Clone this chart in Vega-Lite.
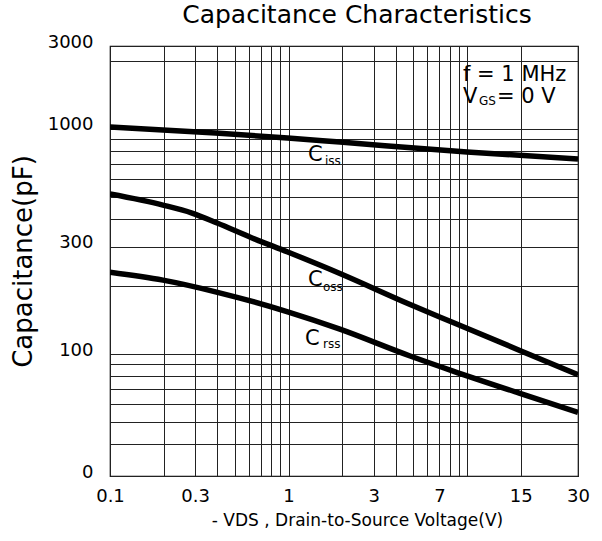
{
  "$schema": "https://vega.github.io/schema/vega-lite/v6.json",
  "width": 468,
  "height": 430,
  "autosize": {"type": "none"},
  "padding": {"left": 110, "top": 46, "right": 24, "bottom": 65},
  "title": {"text": "Capacitance Characteristics", "fontSize": 25, "font": "DejaVu Sans", "fontWeight": "normal", "anchor": "middle", "offset": 5, "dx": 13, "color": "black"},
  "config": {"view": {"stroke": "black", "strokeWidth": 1.2}, "font": "DejaVu Sans"},
  "datasets": {
    "curves": [
      {"series": "Ciss", "vds": 0.1, "cap": 1020},
      {"series": "Ciss", "vds": 0.39, "cap": 960},
      {"series": "Ciss", "vds": 0.99, "cap": 912},
      {"series": "Ciss", "vds": 1.94, "cap": 875},
      {"series": "Ciss", "vds": 10, "cap": 790},
      {"series": "Ciss", "vds": 41.86, "cap": 736},
      {"series": "Coss", "vds": 0.1, "cap": 514},
      {"series": "Coss", "vds": 0.198, "cap": 459},
      {"series": "Coss", "vds": 0.288, "cap": 423},
      {"series": "Coss", "vds": 0.398, "cap": 382},
      {"series": "Coss", "vds": 0.625, "cap": 328},
      {"series": "Coss", "vds": 0.99, "cap": 284},
      {"series": "Coss", "vds": 1.94, "cap": 228},
      {"series": "Coss", "vds": 4.8, "cap": 166},
      {"series": "Coss", "vds": 8.35, "cap": 138},
      {"series": "Coss", "vds": 19.6, "cap": 104},
      {"series": "Coss", "vds": 41.86, "cap": 81},
      {"series": "Crss", "vds": 0.1, "cap": 231},
      {"series": "Crss", "vds": 0.198, "cap": 213},
      {"series": "Crss", "vds": 0.39, "cap": 189},
      {"series": "Crss", "vds": 0.99, "cap": 154},
      {"series": "Crss", "vds": 1.94, "cap": 129},
      {"series": "Crss", "vds": 4.8, "cap": 98},
      {"series": "Crss", "vds": 8.35, "cap": 84},
      {"series": "Crss", "vds": 19.6, "cap": 67},
      {"series": "Crss", "vds": 41.86, "cap": 55}
    ],
    "big": [
      {"vds": 1.286, "cap": 766, "label": "C"},
      {"vds": 1.286, "cap": 213, "label": "C"},
      {"vds": 1.237, "cap": 117.2, "label": "C"},
      {"vds": 9.497, "cap": 1738, "label": "f = 1 MHz"},
      {"vds": 9.497, "cap": 1388, "label": "V"},
      {"vds": 14.73, "cap": 1388, "label": "= 0 V"}
    ],
    "small": [
      {"vds": 1.601, "cap": 720, "label": "iss"},
      {"vds": 1.561, "cap": 198.6, "label": "oss"},
      {"vds": 1.561, "cap": 110.8, "label": "rss"},
      {"vds": 11.67, "cap": 1338, "label": "GS"}
    ]
  },
  "layer": [
    {
      "data": {"name": "curves"},
      "mark": {"type": "line", "strokeWidth": 5.5, "color": "black", "interpolate": "monotone", "clip": true},
      "encoding": {
        "x": {
          "field": "vds", "type": "quantitative",
          "scale": {"type": "log", "domain": [0.1, 41.86], "nice": false},
          "axis": {
            "values": [0.1, 0.2, 0.3, 0.4, 0.5, 0.6, 0.7, 0.8, 0.9, 1, 2, 3, 4, 5, 6, 7, 8, 9, 10, 20, 41.86],
            "labelExpr": "datum.value == 0.1 ? '0.1' : datum.value == 0.3 ? '0.3' : datum.value == 1 ? '1' : datum.value == 3 ? '3' : datum.value == 7 ? '7' : datum.value == 20 ? '15' : datum.value > 40 ? '30' : ''",
            "grid": true, "gridColor": "#222222", "gridWidth": 1, "gridOpacity": 1,
            "ticks": false, "tickSize": 0, "domain": false,
            "labelFont": "DejaVu Sans", "labelFontSize": 18, "labelColor": "black", "labelPadding": 11, "labelFlush": false, "labelOverlap": false, "labelBound": false, "labelAngle": 0,
            "title": "- VDS , Drain-to-Source Voltage(V)", "titleFont": "DejaVu Sans", "titleFontSize": 17, "titleFontWeight": "normal", "titleColor": "black", "titlePadding": 7, "titleX": 247
          }
        },
        "y": {
          "field": "cap", "type": "quantitative",
          "scale": {"type": "log", "domain": [28.7, 2338], "nice": false},
          "axis": {
            "values": [28.7, 40, 50, 60, 70, 80, 90, 100, 200, 300, 400, 500, 600, 700, 800, 900, 1000, 2000, 2338],
            "labelExpr": "datum.value == 100 ? '100' : datum.value == 300 ? '300' : datum.value == 1000 ? '1000' : datum.value > 2100 ? '3000' : datum.value < 30 ? '0' : ''",
            "grid": true, "gridColor": "#222222", "gridWidth": 1, "gridOpacity": 1,
            "ticks": false, "tickSize": 0, "domain": false,
            "labelFont": "DejaVu Sans", "labelFontSize": 18, "labelColor": "black", "labelPadding": 17, "labelOffset": -4, "labelFlush": false, "labelOverlap": false, "labelBound": false,
            "title": "Capacitance(pF)", "titleFont": "DejaVu Sans", "titleFontSize": 26, "titleFontWeight": "normal", "titleColor": "black", "titlePadding": 11
          }
        },
        "detail": {"field": "series", "type": "nominal"}
      }
    },
    {
      "data": {"name": "big"},
      "mark": {"type": "text", "align": "left", "baseline": "middle", "fontSize": 21, "color": "black", "font": "DejaVu Sans"},
      "encoding": {
        "x": {"field": "vds", "type": "quantitative"},
        "y": {"field": "cap", "type": "quantitative"},
        "text": {"field": "label", "type": "nominal"}
      }
    },
    {
      "data": {"name": "small"},
      "mark": {"type": "text", "align": "left", "baseline": "middle", "fontSize": 12, "color": "black", "font": "DejaVu Sans"},
      "encoding": {
        "x": {"field": "vds", "type": "quantitative"},
        "y": {"field": "cap", "type": "quantitative"},
        "text": {"field": "label", "type": "nominal"}
      }
    }
  ]
}
